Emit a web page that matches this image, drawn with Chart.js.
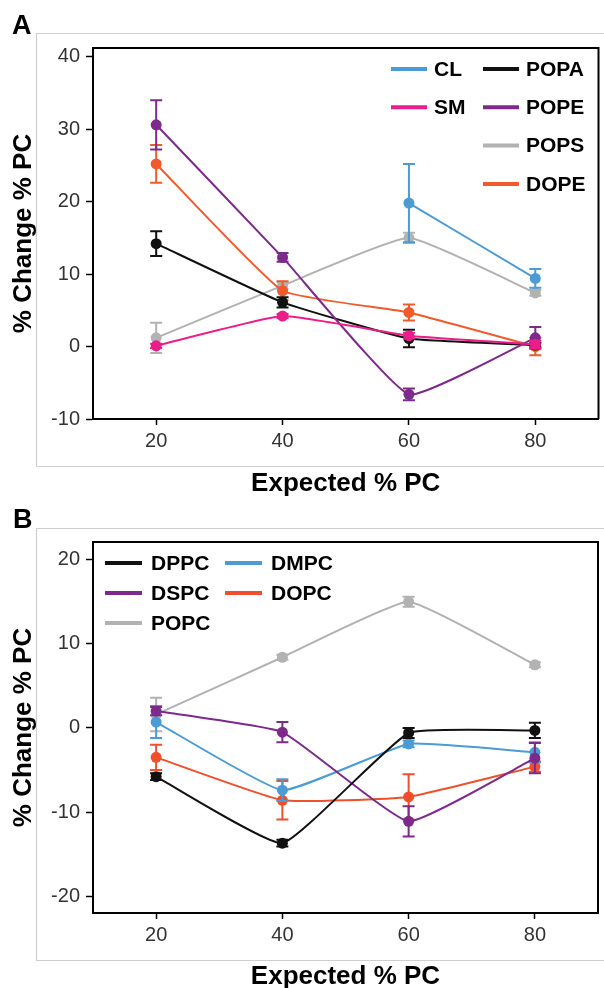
<!DOCTYPE html>
<html>
<head>
<meta charset="utf-8">
<script src="https://cdn.jsdelivr.net/npm/chart.js@4/dist/chart.umd.min.js"></script>
<style>
  html, body { margin:0; padding:0; background:#fff; }
  #wrap { position:relative; width:604px; height:988px; overflow:hidden; background:#fff; }
  canvas { position:absolute; left:0; top:0; }
</style>
</head>
<body>
<div id="wrap">
  <canvas id="chartA" width="604" height="988"></canvas>
  <canvas id="chartB" width="604" height="988"></canvas>
</div>
<script>
// ---------- DATA ----------
const xValues = [20, 40, 60, 80];
const xTickValues = [20, 40, 60, 80];
const yTicksA = [-10, 0, 10, 20, 30, 40];
const yTicksB = [-20, -10, 0, 10, 20];
const xTitle = 'Expected % PC';
const yTitle = '% Change % PC';

// Panel A
const namesA = ['CL', 'SM', 'POPA', 'POPE', 'POPS', 'DOPE'];
const CL       = [null, null, 19.8, 9.4];
const CL_err   = [null, null, 5.4, 1.3];
const SM       = [0.1, 4.2, 1.5, 0.3];
const SM_err   = [0.3, 0.3, 0.4, 0.5];
const POPA     = [14.2, 6.1, 1.1, 0.2];
const POPA_err = [1.7, 0.7, 1.2, 0.3];
const POPE     = [30.6, 12.3, -6.6, 1.2];
const POPE_err = [3.4, 0.6, 0.8, 1.5];
const POPS     = [1.2, 8.4, 15.0, 7.4];
const POPS_err = [2.1, 0.5, 0.7, 0.4];
const DOPE     = [25.2, 7.7, 4.7, 0.0];
const DOPE_err = [2.6, 1.3, 1.1, 1.2];

// Panel B
const namesB = ['DPPC', 'DMPC', 'DSPC', 'DOPC', 'POPC'];
const DPPC     = [-5.8, -13.7, -0.6, -0.3];
const DPPC_err = [0.4, 0.4, 0.6, 0.9];
const DMPC     = [0.7, -7.4, -1.9, -2.9];
const DMPC_err = [1.9, 1.3, 0.4, 1.2];
const DSPC     = [2.0, -0.5, -11.1, -3.6];
const DSPC_err = [0.5, 1.2, 1.8, 1.8];
const DOPC     = [-3.5, -8.6, -8.2, -4.6];
const DOPC_err = [1.5, 2.3, 2.7, 0.6];
const POPC     = [1.6, 8.4, 15.0, 7.5];
const POPC_err = [2.0, 0.3, 0.6, 0.3];

// ---------- STYLE ----------
const FONT = '"Liberation Sans", Arial, Helvetica, sans-serif';
const C = {
  blue: '#4b9bd4', magenta: '#ea1e8a', black: '#111111', purple: '#7d2a8c',
  gray: '#b2b2b2', orange: '#f15a2a', red: '#ef4f2c'
};

function pts(vals) { return xValues.map((x, i) => ({ x: x, y: vals[i] })); }
function ds(label, vals, errs, color) {
  return {
    label: label, data: pts(vals), errors: errs,
    borderColor: color, backgroundColor: color, pointBackgroundColor: color,
    pointBorderWidth: 0, pointRadius: 5.5, borderWidth: 2, tension: 0.12,
    spanGaps: false, fill: false
  };
}

// Error bars drawn from the library's scales
const errorBars = {
  id: 'errorBars',
  afterDatasetDraw(chart, args) {
    const d = chart.data.datasets[args.index];
    if (!d.errors) return;
    const xs = chart.scales.x, ys = chart.scales.y, ctx = chart.ctx;
    ctx.save();
    ctx.strokeStyle = d.borderColor; ctx.lineWidth = 2;
    d.data.forEach((p, i) => {
      const e = d.errors[i];
      if (p.y === null || e === null || e === undefined) return;
      const x = xs.getPixelForValue(p.x);
      const y1 = ys.getPixelForValue(p.y + e), y2 = ys.getPixelForValue(p.y - e);
      ctx.beginPath();
      ctx.moveTo(x, y1); ctx.lineTo(x, y2);
      ctx.moveTo(x - 6, y1); ctx.lineTo(x + 6, y1);
      ctx.moveTo(x - 6, y2); ctx.lineTo(x + 6, y2);
      ctx.stroke();
    });
    ctx.restore();
  }
};

// Frame, panel letter, plot box, legend
const decor = {
  id: 'decor',
  beforeDraw(chart, args, o) {
    const ctx = chart.ctx;
    ctx.save();
    ctx.strokeStyle = '#cfcfcf'; ctx.lineWidth = 1.2;
    ctx.beginPath();
    ctx.moveTo(604, o.frameTop); ctx.lineTo(o.frameLeft, o.frameTop);
    ctx.lineTo(o.frameLeft, o.frameBottom); ctx.lineTo(604, o.frameBottom);
    ctx.stroke();
    ctx.fillStyle = '#000'; ctx.font = 'bold 27px ' + FONT;
    ctx.textBaseline = 'alphabetic'; ctx.textAlign = 'left';
    ctx.fillText(o.letter, o.letterX, o.letterY);
    ctx.restore();
  },
  beforeDatasetsDraw(chart) {
    const a = chart.chartArea, ctx = chart.ctx;
    ctx.save();
    ctx.strokeStyle = '#000'; ctx.lineWidth = 2;
    ctx.beginPath();
    ctx.moveTo(a.left, a.top); ctx.lineTo(a.right, a.top); ctx.lineTo(a.right, a.bottom);
    ctx.stroke();
    ctx.restore();
  },
  afterDraw(chart, args, o) {
    const ctx = chart.ctx;
    ctx.save();
    ctx.font = 'bold 21px ' + FONT; ctx.textBaseline = 'middle'; ctx.textAlign = 'left';
    o.legend.forEach(it => {
      const d = chart.data.datasets.find(s => s.label === it.label);
      const x = o.colX[it.col], y = o.rowY0 + it.row * o.rowH;
      ctx.strokeStyle = d.borderColor; ctx.lineWidth = 4; ctx.lineCap = 'butt';
      ctx.beginPath(); ctx.moveTo(x, y); ctx.lineTo(x + o.lineLen, y); ctx.stroke();
      ctx.fillStyle = '#000';
      ctx.fillText(it.label, x + o.textOff, y + 1);
    });
    ctx.restore();
  }
};

function scales(yMin, yMax, yTicks, xHeight, xTitlePad) {
  return {
    x: {
      type: 'linear', min: 10, max: 90,
      afterBuildTicks: s => { s.ticks = xTickValues.map(v => ({ value: v })); },
      afterFit: s => { s.height = xHeight; },
      ticks: { color: '#333', font: { size: 20, family: FONT }, padding: 4, maxRotation: 0, autoSkip: false },
      grid: { drawOnChartArea: false, drawTicks: true, tickLength: 6, tickWidth: 1.5, tickColor: '#000' },
      border: { display: true, color: '#000', width: 2 },
      title: { display: true, text: xTitle, color: '#000',
        font: { size: 26, weight: 'bold', family: FONT, lineHeight: 1 },
        padding: { top: 0, bottom: xTitlePad } }
    },
    y: {
      type: 'linear', min: yMin, max: yMax,
      afterBuildTicks: s => { s.ticks = yTicks.map(v => ({ value: v })); },
      afterFit: s => { s.width = 93; },
      ticks: { color: '#333', font: { size: 20, family: FONT }, padding: 6, autoSkip: false },
      grid: { drawOnChartArea: false, drawTicks: true, tickLength: 7, tickWidth: 1.5, tickColor: '#000' },
      border: { display: true, color: '#000', width: 2 },
      title: { display: true, text: yTitle, color: '#000',
        font: { size: 26, weight: 'bold', family: FONT, lineHeight: 1 },
        padding: { top: 11, bottom: 0 } }
    }
  };
}

Chart.register(errorBars, decor);

new Chart(document.getElementById('chartA'), {
  type: 'line',
  data: {
    datasets: [
      ds('SM', SM, SM_err, C.magenta),
      ds('POPE', POPE, POPE_err, C.purple),
      ds('CL', CL, CL_err, C.blue),
      ds('POPA', POPA, POPA_err, C.black),
      ds('DOPE', DOPE, DOPE_err, C.orange),
      ds('POPS', POPS, POPS_err, C.gray)
    ]
  },
  options: {
    responsive: false, animation: false, devicePixelRatio: 1,
    layout: { padding: { left: 0, top: 48, right: 5, bottom: 488 } },
    scales: scales(-10, 41.2, yTicksA, 81, 3),
    plugins: {
      legend: { display: false }, tooltip: { enabled: false },
      decor: {
        frameTop: 33.5, frameLeft: 36.5, frameBottom: 466.5, letter: 'A', letterX: 12, letterY: 34,
        colX: [391, 483], rowY0: 69, rowH: 38.3, lineLen: 36, textOff: 43,
        legend: [
          { label: 'CL', col: 0, row: 0 }, { label: 'SM', col: 0, row: 1 },
          { label: 'POPA', col: 1, row: 0 }, { label: 'POPE', col: 1, row: 1 },
          { label: 'POPS', col: 1, row: 2 }, { label: 'DOPE', col: 1, row: 3 }
        ]
      }
    }
  }
});

new Chart(document.getElementById('chartB'), {
  type: 'line',
  data: {
    datasets: [
      ds('DPPC', DPPC, DPPC_err, C.black),
      ds('DSPC', DSPC, DSPC_err, C.purple),
      ds('DMPC', DMPC, DMPC_err, C.blue),
      ds('DOPC', DOPC, DOPC_err, C.red),
      ds('POPC', POPC, POPC_err, C.gray)
    ]
  },
  options: {
    responsive: false, animation: false, devicePixelRatio: 1,
    layout: { padding: { left: 0, top: 542, right: 6, bottom: 0 } },
    scales: scales(-22, 22.1, yTicksB, 75, -2),
    plugins: {
      legend: { display: false }, tooltip: { enabled: false },
      decor: {
        frameTop: 528.5, frameLeft: 36.5, frameBottom: 960.5, letter: 'B', letterX: 13, letterY: 528,
        colX: [105, 225], rowY0: 563, rowH: 30, lineLen: 37, textOff: 46,
        legend: [
          { label: 'DPPC', col: 0, row: 0 }, { label: 'DMPC', col: 1, row: 0 },
          { label: 'DSPC', col: 0, row: 1 }, { label: 'DOPC', col: 1, row: 1 },
          { label: 'POPC', col: 0, row: 2 }
        ]
      }
    }
  }
});
</script>
</body>
</html>
